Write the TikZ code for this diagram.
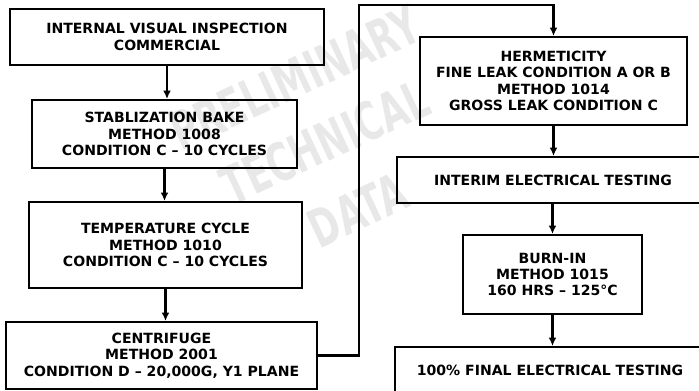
\documentclass[tikz,border=0pt]{standalone}
\usepackage{fontspec}
\setmainfont{DejaVu Sans}
\usetikzlibrary{arrows.meta,positioning}

\tikzset{
  stepbox/.style={draw, line width=1.3pt, align=center, inner sep=0pt,
    font=\bfseries\fontsize{10}{11.7}\selectfont},
  flow/.style={line width=2pt, -{Latex[length=6pt,width=5.5pt]}},
  stamp/.style={black!9, rotate=25, yscale=1.5,
    font=\bfseries\fontsize{25}{25}\selectfont}
}

\begin{document}
\begin{tikzpicture}[x=0.025cm,y=-0.025cm]
  \useasboundingbox (0,0) rectangle (699,390);
  % faint stamp behind the chart
  \node[stamp] (wm1) at (295,78) {PRELIMINARY};
  \node[stamp] (wm2) at (325,142) {TECHNICAL};
  \node[stamp] (wm3) at (358,210) {DATA};

  % left column
  \node[stepbox, minimum width=7.85cm, minimum height=1.4cm] (visual) at (167,37)
    {INTERNAL VISUAL INSPECTION\\COMMERCIAL};
  \node[stepbox, minimum width=6.625cm, minimum height=1.7cm] (bake) at (164.5,134)
    {STABLIZATION BAKE\\METHOD 1008\\CONDITION C -- 10 CYCLES};
  \node[stepbox, minimum width=6.825cm, minimum height=2.15cm] (tcycle) at (165.5,245)
    {TEMPERATURE CYCLE\\METHOD 1010\\CONDITION C -- 10 CYCLES};
  \node[stepbox, minimum width=7.775cm, minimum height=1.675cm] (centri) at (161.5,355.5)
    {CENTRIFUGE\\METHOD 2001\\CONDITION D -- 20,000G, Y1 PLANE};

  % right column
  \node[stepbox, minimum width=6.675cm, minimum height=2.2cm] (herm) at (553.5,81)
    {HERMETICITY\\FINE LEAK CONDITION A OR B\\METHOD 1014\\GROSS LEAK CONDITION C};
  \node[stepbox, minimum width=7.8cm, minimum height=1.15cm] (interim) at (553,180)
    {INTERIM ELECTRICAL TESTING};
  \node[stepbox, minimum width=4.475cm, minimum height=1.975cm] (burnin) at (552.5,274.5)
    {BURN-IN\\METHOD 1015\\160 HRS -- 125°C};
  \node[stepbox, minimum width=7.75cm, minimum height=1.15cm] (final) at (550,370)
    {100\% FINAL ELECTRICAL TESTING};

  \coordinate (turn) at (359,5);

  \draw[flow] (visual.south) -- (visual.south |- bake.north);
  \draw[flow] (bake.south) -- (bake.south |- tcycle.north);
  \draw[flow] (tcycle.south) -- (tcycle.south |- centri.north);
  \draw[flow] (centri.east) -| (turn) -| (herm.north);
  \draw[flow] (herm.south) -- (herm.south |- interim.north);
  \draw[flow] (interim.south -| burnin.north) -- (burnin.north);
  \draw[flow] (burnin.south) -- (burnin.south |- final.north);
\end{tikzpicture}
\end{document}
